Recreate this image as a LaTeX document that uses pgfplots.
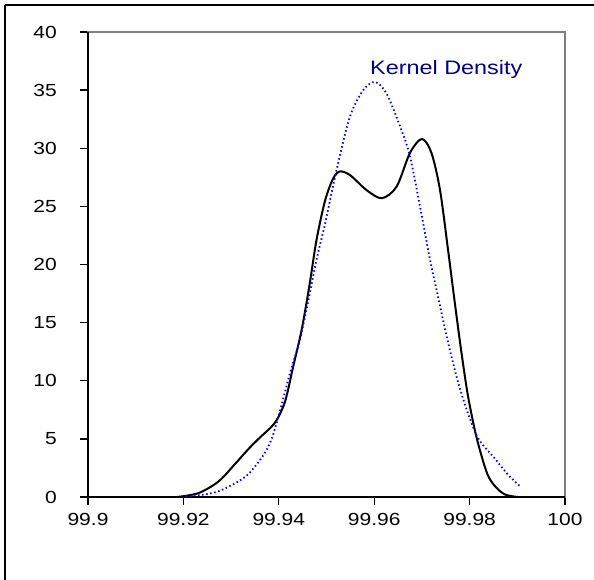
\documentclass[border=0pt]{standalone}
\usepackage{fontspec}
\setmainfont{Liberation Sans}[FakeStretch=1.2]
\usepackage{pgfplots}
\pgfplotsset{compat=1.18}
\definecolor{navytext}{RGB}{0,0,128}
\definecolor{axgray}{RGB}{128,128,128}
\begin{document}
\begin{tikzpicture}
\useasboundingbox (0pt,0pt) rectangle (594pt,580pt);
% outer frame (top and left edges visible)
\draw[line width=1.2pt] (5pt,575pt) -- (594pt,575pt);
\draw[line width=1.2pt] (5pt,575pt) -- (5pt,0pt);
% x is stored in thousandths above 99.9 (0 = 99.9, 100 = 100.0)
\begin{axis}[
  at={(88pt,83pt)}, anchor=south west,
  scale only axis, width=477pt, height=465pt,
  xmin=0, xmax=100, ymin=0, ymax=40,
  xtick={0,20,40,60,80,100},
  xticklabels={99.9,99.92,99.94,99.96,99.98,100},
  ytick={0,5,...,40},
  tick align=outside, xtick pos=bottom, ytick pos=left,
  major tick length=8pt,
  every tick/.style={black, line width=1.3pt},
  axis line style={axgray, line width=1.3pt},
  /pgf/number format/assume math mode=true,
  yticklabel style={font=\fontsize{17.5}{20}\selectfont, anchor=east, inner sep=0pt, xshift=-23pt},
  xticklabel style={font=\fontsize{17.5}{20}\selectfont, anchor=north, inner sep=0pt, yshift=-8pt},
  clip=false,
]
\draw[black, line width=1.5pt] (rel axis cs:0,1) -- (rel axis cs:0,0) -- (rel axis cs:1,0);
\addplot[black, line width=2pt, smooth, tension=0.5] coordinates {
(18.7,0) (23.2,0.34) (27.4,1.35) (31.0,2.92) (33.8,4.2) (36.0,5.1)
(39.2,6.4) (41.3,8.2) (43.0,11.2) (44.8,14.4) (46.5,18.4) (47.9,22.1)
(49.7,25.5) (51.4,27.4) (52.8,28.0) (54.9,27.7) (58.4,26.4) (61.6,25.7)
(64.7,26.7) (67.5,29.6) (70.0,30.8) (72.0,29.6) (73.8,26.4) (75.5,21.2)
(76.9,16.7) (78.3,12.4) (79.7,8.6) (81.5,5.05) (83.7,2.0) (85.5,0.85) (87.5,0.2) (90.1,0)
};
\addplot[blue, line width=1.8pt, dash pattern=on 1.5pt off 2.6pt, smooth, tension=0.5] coordinates {
(20.5,0.05) (25.0,0.25) (28.2,0.63) (33.1,1.78) (36.6,3.5) (38.5,5.0)
(40.3,7.5) (42.3,10.6) (44.4,13.5) (46.2,16.9) (47.9,20.4) (49.7,23.5)
(52.1,28.1) (54.9,32.7) (57.7,35.0) (60.2,35.7) (62.6,34.7) (65.4,31.9)
(67.5,29.3) (70.2,23.7) (71.7,20.4) (73.4,17.2) (75.2,13.8) (77.3,10.3)
(79.4,7.5) (81.8,5.05) (85.3,3.3) (88.1,1.9) (90.5,0.95)
};
\end{axis}
\node[anchor=base west, inner sep=0pt, text=navytext, font=\fontsize{19.5}{22}\selectfont] at (370pt,505pt) {Kernel Density};
\end{tikzpicture}
\end{document}
